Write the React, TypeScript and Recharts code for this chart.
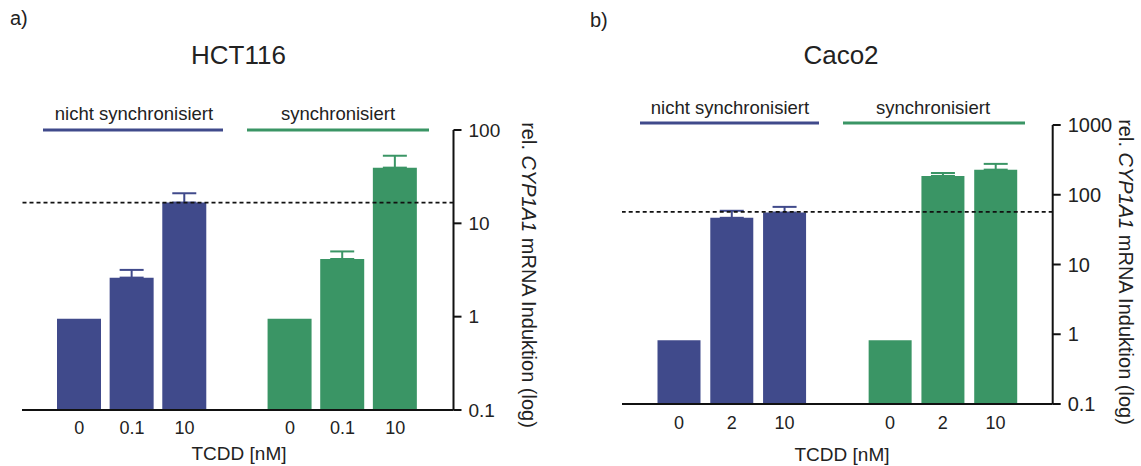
import React from 'react';
import {
  BarChart,
  Bar,
  XAxis,
  YAxis,
  ReferenceLine,
  ErrorBar,
  Cell,
} from 'recharts';

// ---- Data ----------------------------------------------------------------
const BLUE = '#404a8b';
const GREEN = '#3a9565';
const FONT = '"Liberation Sans", Arial, Helvetica, sans-serif';

// HCT116
const hctDoses = ['0', '0.1', '10'];
const hctNotSynced = [0.95, 2.62, 16.7];
const hctNotSyncedErr = [null, 0.55, 4.3];
const hctSynced = [0.95, 4.15, 39.5];
const hctSyncedErr = [null, 0.85, 13.5];
const hctThreshold = 16.7;
const hctTicks = [0.1, 1, 10, 100];

// Caco2
const cacoDoses = ['0', '2', '10'];
const cacoNotSynced = [0.82, 46.7, 55.6];
const cacoNotSyncedErr = [null, 12.2, 11.4];
const cacoSynced = [0.82, 186, 229];
const cacoSyncedErr = [null, 19, 48];
const cacoThreshold = 57;
const cacoTicks = [0.1, 1, 10, 100, 1000];

type Row = {
  key: string;
  label: string;
  value: number | null;
  errBlue: [number, number] | null;
  errGreen: [number, number] | null;
  color: string;
};

function buildRows(
  doses: string[],
  notSynced: number[],
  notSyncedErr: (number | null)[],
  synced: number[],
  syncedErr: (number | null)[]
): Row[] {
  const rows: Row[] = [];
  doses.forEach((d, i) =>
    rows.push({
      key: `n${i}`,
      label: d,
      value: notSynced[i],
      errBlue: notSyncedErr[i] == null ? null : [0, notSyncedErr[i] as number],
      errGreen: null,
      color: BLUE,
    })
  );
  rows.push({ key: 'gap', label: '', value: null, errBlue: null, errGreen: null, color: 'none' });
  doses.forEach((d, i) =>
    rows.push({
      key: `s${i}`,
      label: d,
      value: synced[i],
      errBlue: null,
      errGreen: syncedErr[i] == null ? null : [0, syncedErr[i] as number],
      color: GREEN,
    })
  );
  return rows;
}

const hctRows = buildRows(hctDoses, hctNotSynced, hctNotSyncedErr, hctSynced, hctSyncedErr);
const cacoRows = buildRows(cacoDoses, cacoNotSynced, cacoNotSyncedErr, cacoSynced, cacoSyncedErr);

// ---- Panel ---------------------------------------------------------------
type PanelProps = {
  rows: Row[];
  ticks: number[];
  threshold: number;
  width: number;
  height: number;
  margin: { top: number; right: number; bottom: number; left: number };
  yAxisWidth: number;
  padding: { left: number; right: number };
  barSize: number;
  xTickMargin: number;
  yTickFont: number;
};

function Panel(p: PanelProps) {
  const labelOf = (k: string) => p.rows.find((r) => r.key === k)?.label ?? '';
  return (
    <BarChart width={p.width} height={p.height} data={p.rows} margin={p.margin}>
      <XAxis
        dataKey="key"
        type="category"
        height={30}
        padding={p.padding}
        tickFormatter={labelOf}
        tickLine={false}
        tickSize={0}
        tickMargin={p.xTickMargin}
        interval={0}
        axisLine={{ stroke: '#111', strokeWidth: 2 }}
        tick={{ fontSize: 18, fill: '#222', fontFamily: FONT }}
      />
      <YAxis
        orientation="right"
        type="number"
        scale="log"
        domain={[p.ticks[0], p.ticks[p.ticks.length - 1]]}
        ticks={p.ticks}
        interval={0}
        allowDataOverflow
        width={p.yAxisWidth}
        tickSize={8}
        tickMargin={7}
        axisLine={{ stroke: '#111', strokeWidth: 2 }}
        tickLine={{ stroke: '#111', strokeWidth: 2 }}
        tick={{ fontSize: p.yTickFont, fill: '#222', fontFamily: FONT }}
        tickFormatter={(v: number) => String(v)}
      />
      <Bar dataKey="value" barSize={p.barSize} isAnimationActive={false}>
        {p.rows.map((r) => (
          <Cell key={r.key} fill={r.color} />
        ))}
        <ErrorBar dataKey="errBlue" direction="y" width={12} stroke={BLUE} strokeWidth={2} isAnimationActive={false} />
        <ErrorBar dataKey="errGreen" direction="y" width={12} stroke={GREEN} strokeWidth={2} isAnimationActive={false} />
      </Bar>
      <ReferenceLine y={p.threshold} stroke="#111" strokeWidth={1.8} strokeDasharray="4 3" />
    </BarChart>
  );
}

// ---- Page ----------------------------------------------------------------
export default function App() {
  const textStyle = { fontFamily: FONT, fill: '#222' } as const;
  return (
    <div style={{ position: 'absolute', left: 0, top: 0, width: 1141, height: 466, background: '#fff' }}>
      <div style={{ position: 'absolute', left: 0, top: 0 }}>
        <Panel
          rows={hctRows}
          ticks={hctTicks}
          threshold={hctThreshold}
          width={570}
          height={466}
          margin={{ top: 130, right: 0, bottom: 26, left: 22 }}
          yAxisWidth={116.5}
          padding={{ left: 31, right: 32 }}
          barSize={44}
          xTickMargin={11}
          yTickFont={19}
        />
      </div>
      <div style={{ position: 'absolute', left: 570, top: 0 }}>
        <Panel
          rows={cacoRows}
          ticks={cacoTicks}
          threshold={cacoThreshold}
          width={571}
          height={466}
          margin={{ top: 125, right: 0, bottom: 32, left: 52 }}
          yAxisWidth={88.3}
          padding={{ left: 30.5, right: 30.7 }}
          barSize={43}
          xTickMargin={12}
          yTickFont={20}
        />
      </div>

      <svg
        width={1141}
        height={466}
        style={{ position: 'absolute', left: 0, top: 0, pointerEvents: 'none' }}
      >
        {/* panel letters and titles */}
        <text x={10} y={25} fontSize={20} {...textStyle}>a)</text>
        <text x={590} y={27} fontSize={20} {...textStyle}>b)</text>
        <text x={238.5} y={64} fontSize={26} textAnchor="middle" {...textStyle}>HCT116</text>
        <text x={841} y={64} fontSize={26} textAnchor="middle" {...textStyle}>Caco2</text>

        {/* group brackets, HCT116 */}
        <text x={134} y={120} fontSize={18.5} textAnchor="middle" {...textStyle}>nicht synchronisiert</text>
        <line x1={43} x2={223} y1={130} y2={130} stroke={BLUE} strokeWidth={3} />
        <text x={338} y={120} fontSize={18.5} textAnchor="middle" {...textStyle}>synchronisiert</text>
        <line x1={247} x2={429} y1={130} y2={130} stroke={GREEN} strokeWidth={3} />

        {/* group brackets, Caco2 */}
        <text x={730} y={114} fontSize={18.5} textAnchor="middle" {...textStyle}>nicht synchronisiert</text>
        <line x1={640} x2={819} y1={123} y2={123} stroke={BLUE} strokeWidth={3} />
        <text x={933} y={114} fontSize={18.5} textAnchor="middle" {...textStyle}>synchronisiert</text>
        <line x1={843} x2={1025} y1={123} y2={123} stroke={GREEN} strokeWidth={3} />

        {/* x-axis titles */}
        <text x={239} y={460} fontSize={19} textAnchor="middle" {...textStyle}>TCDD [nM]</text>
        <text x={842} y={461} fontSize={19} textAnchor="middle" {...textStyle}>TCDD [nM]</text>

        {/* y-axis titles */}
        <text
          transform="translate(529,275) rotate(90)"
          fontSize={20}
          textAnchor="middle"
          dominantBaseline="central"
          {...textStyle}
        >
          rel. <tspan fontStyle="italic">CYP1A1</tspan> mRNA Induktion (log)
        </text>
        <text
          transform="translate(1126,272) rotate(90)"
          fontSize={20}
          textAnchor="middle"
          dominantBaseline="central"
          {...textStyle}
        >
          rel. <tspan fontStyle="italic">CYP1A1</tspan> mRNA Induktion (log)
        </text>
      </svg>
    </div>
  );
}
